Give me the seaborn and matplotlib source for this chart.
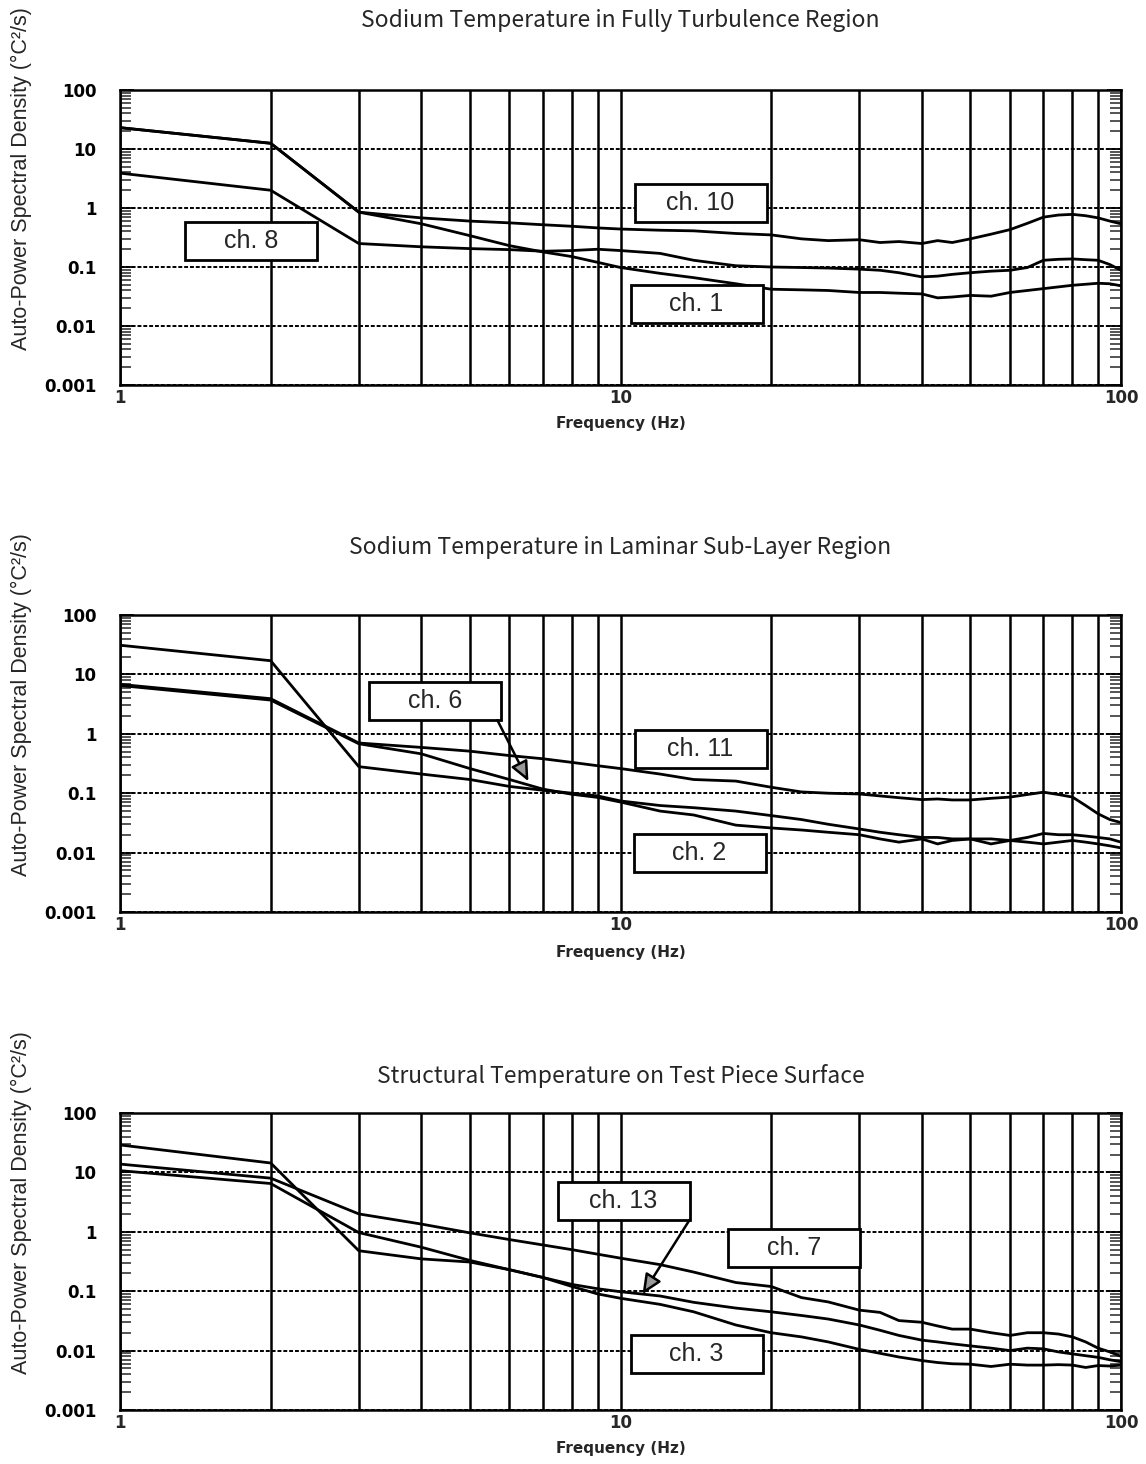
import numpy as np
import pandas as pd
import matplotlib
matplotlib.use("Agg")
import matplotlib.pyplot as plt
from matplotlib.patches import Rectangle
from matplotlib.ticker import FixedLocator, LogLocator, NullFormatter
import seaborn as sns

# Frequencies (Hz) at which the spectra are tabulated
freqs = [1, 2, 3, 4, 5, 6, 7, 8, 9, 10, 12, 14, 17, 20, 23, 26, 30, 33, 36,
         40, 43, 46, 50, 55, 60, 65, 70, 75, 80, 85, 90, 95, 100]

# Sodium temperature, fully turbulent region
ch10 = [23, 12.5, 0.85, 0.68, 0.6, 0.56, 0.52, 0.49, 0.46, 0.44, 0.42, 0.41, 0.37,
        0.35, 0.30, 0.28, 0.29, 0.26, 0.27, 0.25, 0.28, 0.26, 0.30, 0.36, 0.43, 0.55,
        0.70, 0.76, 0.78, 0.74, 0.68, 0.60, 0.54]
ch8 = [3.9, 2.0, 0.25, 0.22, 0.205, 0.197, 0.185, 0.19, 0.2, 0.19, 0.17, 0.13, 0.105,
       0.1, 0.098, 0.096, 0.092, 0.088, 0.08, 0.068, 0.07, 0.075, 0.08, 0.085, 0.088,
       0.098, 0.13, 0.135, 0.137, 0.133, 0.13, 0.11, 0.088]
ch1 = [23, 12.5, 0.85, 0.54, 0.34, 0.23, 0.18, 0.15, 0.12, 0.098, 0.078, 0.066, 0.052,
       0.042, 0.041, 0.04, 0.037, 0.037, 0.036, 0.035, 0.03, 0.031, 0.033, 0.032, 0.037,
       0.04, 0.043, 0.046, 0.049, 0.051, 0.053, 0.052, 0.048]

# Sodium temperature, laminar sub-layer region
ch11 = [6.8, 3.9, 0.7, 0.59, 0.51, 0.43, 0.38, 0.33, 0.29, 0.26, 0.21, 0.17, 0.16,
        0.126, 0.105, 0.1, 0.097, 0.09, 0.084, 0.078, 0.08, 0.077, 0.077, 0.082, 0.086,
        0.095, 0.104, 0.095, 0.086, 0.062, 0.045, 0.036, 0.032]
ch6 = [6.5, 3.7, 0.68, 0.46, 0.26, 0.17, 0.117, 0.096, 0.085, 0.071, 0.05, 0.043, 0.029,
       0.026, 0.024, 0.022, 0.02, 0.017, 0.015, 0.017, 0.014, 0.016, 0.017, 0.014, 0.016,
       0.015, 0.014, 0.015, 0.016, 0.015, 0.014, 0.013, 0.012]
ch2 = [31, 17, 0.28, 0.21, 0.17, 0.13, 0.112, 0.1, 0.09, 0.074, 0.062, 0.057, 0.05,
       0.042, 0.036, 0.03, 0.025, 0.022, 0.02, 0.018, 0.018, 0.017, 0.017, 0.017, 0.016,
       0.018, 0.021, 0.02, 0.02, 0.019, 0.018, 0.017, 0.015]

# Structural temperature on the test piece surface
ch7 = [13.8, 8.0, 2.0, 1.35, 0.96, 0.74, 0.6, 0.5, 0.42, 0.36, 0.28, 0.21, 0.14,
       0.12, 0.078, 0.066, 0.048, 0.044, 0.032, 0.03, 0.026, 0.023, 0.023, 0.02, 0.018,
       0.02, 0.02, 0.019, 0.017, 0.014, 0.011, 0.0095, 0.008]
ch13 = [10.7, 6.5, 0.97, 0.55, 0.33, 0.23, 0.17, 0.13, 0.11, 0.098, 0.083, 0.065, 0.052,
        0.045, 0.039, 0.034, 0.027, 0.022, 0.018, 0.015, 0.014, 0.013, 0.012, 0.011, 0.01,
        0.011, 0.0107, 0.0095, 0.0088, 0.0082, 0.0077, 0.007, 0.0065]
ch3 = [29, 14.4, 0.48, 0.35, 0.31, 0.23, 0.17, 0.12, 0.09, 0.076, 0.06, 0.045, 0.027,
       0.02, 0.017, 0.014, 0.0105, 0.009, 0.0078, 0.0068, 0.0063, 0.006, 0.0059, 0.0054,
       0.0059, 0.0057, 0.0057, 0.0058, 0.0057, 0.0052, 0.0056, 0.0055, 0.0057]

titles = ["Sodium Temperature in Fully Turbulence Region",
          "Sodium Temperature in Laminar Sub-Layer Region",
          "Structural Temperature on Test Piece Surface"]
panel_series = [
    {"ch. 10": ch10, "ch. 8": ch8, "ch. 1": ch1},
    {"ch. 11": ch11, "ch. 6": ch6, "ch. 2": ch2},
    {"ch. 7": ch7, "ch. 13": ch13, "ch. 3": ch3},
]
ytick_vals = [0.001, 0.01, 0.1, 1, 10, 100]
ytick_labels = ["0.001", "0.01", "0.1", "1", "10", "100"]
xtick_vals = [1, 10, 100]
xtick_labels = ["1", "10", "100"]

sns.set_theme(style="white")
plt.rcParams["font.family"] = ["Liberation Sans", "DejaVu Sans"]

W, H = 1146, 1464
fig = plt.figure(figsize=(W / 100, H / 100), dpi=100)

# axes boxes in pixels: (top, bottom)
boxes = [(90, 385), (615, 912), (1113, 1410)]
left_px, right_px = 120, 1121

# callout boxes: (label, cx, cy) in axes fraction; optional arrow (start, tip)
callouts = [
    [("ch. 8", 0.131, 0.488, None), ("ch. 10", 0.580, 0.617, None), ("ch. 1", 0.576, 0.275, None)],
    [("ch. 6", 0.315, 0.710, ((0.377, 0.646), (0.408, 0.44))),
     ("ch. 11", 0.580, 0.549, None), ("ch. 2", 0.579, 0.199, None)],
    [("ch. 13", 0.503, 0.704, ((0.569, 0.640), (0.522, 0.39))),
     ("ch. 7", 0.673, 0.545, None), ("ch. 3", 0.576, 0.189, None)],
]
title_y = [1.237, 1.226, 1.125]
xlabel_y = [-0.132, -0.135, -0.128]

minor_x = [2, 3, 4, 5, 6, 7, 8, 9, 20, 30, 40, 50, 60, 70, 80, 90]

for i, (top, bot) in enumerate(boxes):
    ax = fig.add_axes([left_px / W, 1 - bot / H, (right_px - left_px) / W, (bot - top) / H])
    series = panel_series[i]
    df = pd.concat([pd.DataFrame({"Frequency": freqs, "PSD": v, "channel": k})
                    for k, v in series.items()], ignore_index=True)
    sns.lineplot(data=df, x="Frequency", y="PSD", hue="channel",
                 palette={k: "black" for k in series}, legend=False,
                 estimator=None, sort=False, linewidth=2.0, ax=ax, zorder=3)
    ax.set_xscale("log")
    ax.set_yscale("log")
    ax.set_xlim(1, 100)
    ax.set_ylim(0.001, 100)

    ax.set_yticks(ytick_vals)
    ax.set_yticklabels(ytick_labels, fontsize=12, fontweight="bold",
                       family=["DejaVu Sans"])
    ax.yaxis.set_minor_locator(LogLocator(base=10, subs=range(2, 10)))
    ax.yaxis.set_minor_formatter(NullFormatter())
    ax.tick_params(axis="y", which="major", direction="in", length=10, width=1.3,
                   left=True, right=True, pad=17, colors="black")
    ax.tick_params(axis="y", which="minor", direction="in", length=8, width=1.1,
                   left=True, right=True)

    ax.set_xticks(xtick_vals)
    ax.set_xticklabels(xtick_labels, fontsize=12, fontweight="bold",
                       family=["DejaVu Sans"])
    ax.xaxis.set_minor_locator(FixedLocator(minor_x))
    ax.xaxis.set_minor_formatter(NullFormatter())
    ax.tick_params(axis="x", which="both", length=0, pad=3)

    ax.grid(False)
    ax.grid(axis="x", which="both", color="black", linestyle="-", linewidth=1.8, zorder=1)
    ax.grid(axis="y", which="major", color="black", linestyle=(0, (2, 1)), linewidth=1.4, zorder=1)
    for sp in ax.spines.values():
        sp.set_color("black")
        sp.set_linewidth(1.8)
    ax.set_xlabel("")
    ax.set_ylabel("")

    ax.text(0.5, title_y[i], titles[i], transform=ax.transAxes, ha="center",
            va="center", fontsize=16.5, family=["Noto Sans CJK JP", "DejaVu Sans"])
    ax.text(0.5, xlabel_y[i], "Frequency (Hz)", transform=ax.transAxes, ha="center",
            va="center", fontsize=11, fontweight="bold", family=["DejaVu Sans"])
    ax.text(-0.098, 0.70, "Auto-Power Spectral Density (°C²/s)", transform=ax.transAxes,
            rotation=90, ha="center", va="center", fontsize=15.5)

    bw, bh = 132 / (right_px - left_px), 38 / (bot - top)
    for label, cx, cy, arrow in callouts[i]:
        ax.add_patch(Rectangle((cx - bw / 2, cy - bh / 2), bw, bh, transform=ax.transAxes,
                               facecolor="white", edgecolor="black", linewidth=2.0,
                               zorder=6, clip_on=False))
        ax.text(cx, cy, label, transform=ax.transAxes, ha="center", va="center",
                fontsize=18, zorder=7)
        if arrow is not None:
            start, tip = arrow
            ax.annotate("", xy=tip, xytext=start, xycoords="axes fraction",
                        textcoords="axes fraction",
                        arrowprops=dict(arrowstyle="-|>,head_length=1.0,head_width=0.45",
                                        facecolor="0.6", edgecolor="black", linewidth=1.8,
                                        shrinkA=0, shrinkB=0),
                        zorder=7)

fig.savefig("out.png", dpi=100, facecolor="white")
